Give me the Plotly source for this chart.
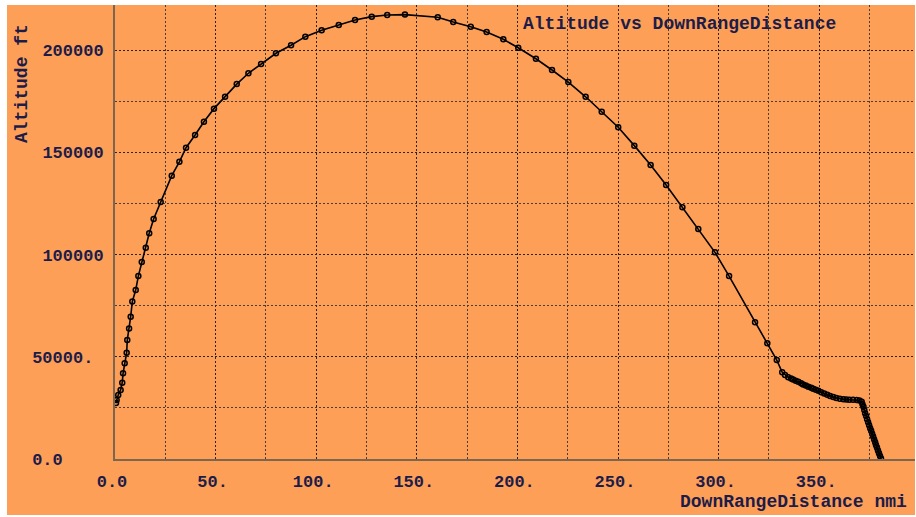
import plotly.graph_objects as go

# Data
x_nmi = [0.5, 0.8, 1.6, 2.8, 3.6, 4.0, 4.8, 5.8, 6.1, 7.0, 7.8, 8.6, 10.3, 11.6, 13.3,
         15.3, 17.0, 19.2, 22.7, 28.2, 32.0, 35.3, 39.8, 44.2, 49.2, 54.7, 60.5, 66.3,
         72.6, 80.0, 87.5, 94.6, 102.7, 111.2, 119.3, 127.6, 135.3, 144.1, 160.4, 168.1,
         176.8, 184.7, 193.0, 200.4, 209.2, 217.2, 225.3, 233.9, 241.9, 250.1, 258.1,
         266.2, 273.9, 282.0, 289.9, 298.2, 305.2, 318.1, 324.2, 328.9, 331.6, 333.0,
         334.6, 336.0, 337.0, 338.3, 339.6, 341.0, 342.0, 343.3, 344.6, 346.0, 347.0,
         348.3, 349.6, 351.0, 352.5, 354.0, 355.4, 357.0, 358.5, 360.2, 362.0, 363.5,
         365.0, 366.8, 368.6, 370.0, 371.1, 371.5, 372.0, 372.4, 372.8, 373.3, 373.8,
         374.3, 374.8, 375.3, 375.8, 376.3, 376.8, 377.3, 377.8, 378.2, 378.7, 379.2,
         379.7, 380.2, 380.7]
alt_ft = [27400, 28900, 31300, 33800, 37300, 41900, 46800, 52000, 58200, 63900, 69600,
          77000, 82700, 89500, 96400, 103400, 110400, 117400, 125700, 138600, 145400,
          152300, 158500, 165000, 171400, 177200, 183400, 188700, 193200, 198500, 202400,
          206600, 209700, 212300, 214800, 216400, 217200, 217400, 216100, 213800, 211500,
          208900, 205300, 201200, 195800, 190300, 184400, 177200, 169900, 162300, 153300,
          143800, 134000, 123100, 112500, 101100, 89500, 66900, 56600, 48400, 42400, 41100,
          40000, 39400, 38900, 38300, 37800, 37100, 36500, 36000, 35400, 34900, 34400,
          33900, 33400, 32700, 32000, 31400, 30800, 30300, 29900, 29500, 29200, 29100,
          29000, 28950, 28900, 28600, 28000, 26800, 25500, 24000, 22400, 21000, 19500,
          18000, 16500, 15100, 13800, 12400, 11000, 9600, 8200, 6900, 5600, 4200,
          2800, 1500, 300]

x_tickvals = [0, 50, 100, 150, 200, 250, 300, 350]
x_ticktext = ["0.0", "50.", "100.", "150.", "200.", "250.", "300.", "350."]
y_tickvals = [0, 50000, 100000, 150000, 200000]
y_ticktext = ["0.0\u00a0\u00a0\u00a0\u00a0", "50000.\u00a0", "100000", "150000", "200000"]

title_text = "Altitude vs DownRangeDistance"
x_title = "DownRangeDistance nmi"
y_title = "Altitude ft"

ORANGE = "#FE9F58"
TEXT = "#1c1c48"
FONT = "Courier New, Liberation Mono, monospace"

fig = go.Figure()
fig.add_trace(go.Scatter(
    x=x_nmi, y=alt_ft, mode="lines+markers",
    line=dict(color="black", width=1.6),
    marker=dict(symbol="circle-open", size=5, color="black",
                line=dict(color="black", width=1.5)),
    showlegend=False, hoverinfo="x+y",
))

fig.update_layout(
    width=916, height=517,
    margin=dict(l=115, r=1, t=5, b=58),
    paper_bgcolor="white",
    plot_bgcolor=ORANGE,
    font=dict(family=FONT, size=17, color=TEXT),
    shapes=[dict(type="rect", xref="paper", yref="paper",
                 x0=-0.135, x1=1.0, y0=-0.1233, y1=1.0,
                 fillcolor=ORANGE, line=dict(width=0), layer="below")],
    annotations=[
        dict(text=title_text, xref="paper", yref="paper", x=0.5075, y=0.959,
             xanchor="left", yanchor="middle", showarrow=False,
             font=dict(family=FONT, size=18, color=TEXT, weight="bold")),
        dict(text=x_title, xref="paper", yref="paper", x=0.992, y=-0.094,
             xanchor="right", yanchor="middle", showarrow=False,
             font=dict(family=FONT, size=18, color=TEXT, weight="bold")),
        dict(text=y_title, xref="paper", yref="paper", x=-0.116, y=0.962,
             xanchor="center", yanchor="top", textangle=-90, showarrow=False,
             font=dict(family=FONT, size=18, color=TEXT, weight="bold")),
    ],
)

fig.update_xaxes(
    range=[0, 397.6], tickvals=x_tickvals, ticktext=x_ticktext,
    tickfont=dict(family=FONT, size=17, color=TEXT, weight="bold"),
    ticks="", ticklabelstandoff=6, ticklabelshift=-3,
    showline=True, linecolor="#7d6650", linewidth=2,
    showgrid=True, gridcolor="#2a2520", gridwidth=1, griddash="2px,2px",
    minor=dict(dtick=25, tick0=0, showgrid=True, gridcolor="#4a3d33",
               gridwidth=1, griddash="2px,2px"),
    zeroline=False, fixedrange=True,
)
fig.update_yaxes(
    range=[0, 222100], tickvals=y_tickvals, ticktext=y_ticktext,
    tickfont=dict(family=FONT, size=17, color=TEXT, weight="bold"),
    ticks="", ticklabelstandoff=6,
    showline=True, linecolor="#7d6650", linewidth=2,
    showgrid=True, gridcolor="#2a2520", gridwidth=1, griddash="2px,2px",
    minor=dict(dtick=25000, tick0=0, showgrid=True, gridcolor="#4a3d33",
               gridwidth=1, griddash="2px,2px"),
    zeroline=False, fixedrange=True,
)

fig.write_html("out.html")
